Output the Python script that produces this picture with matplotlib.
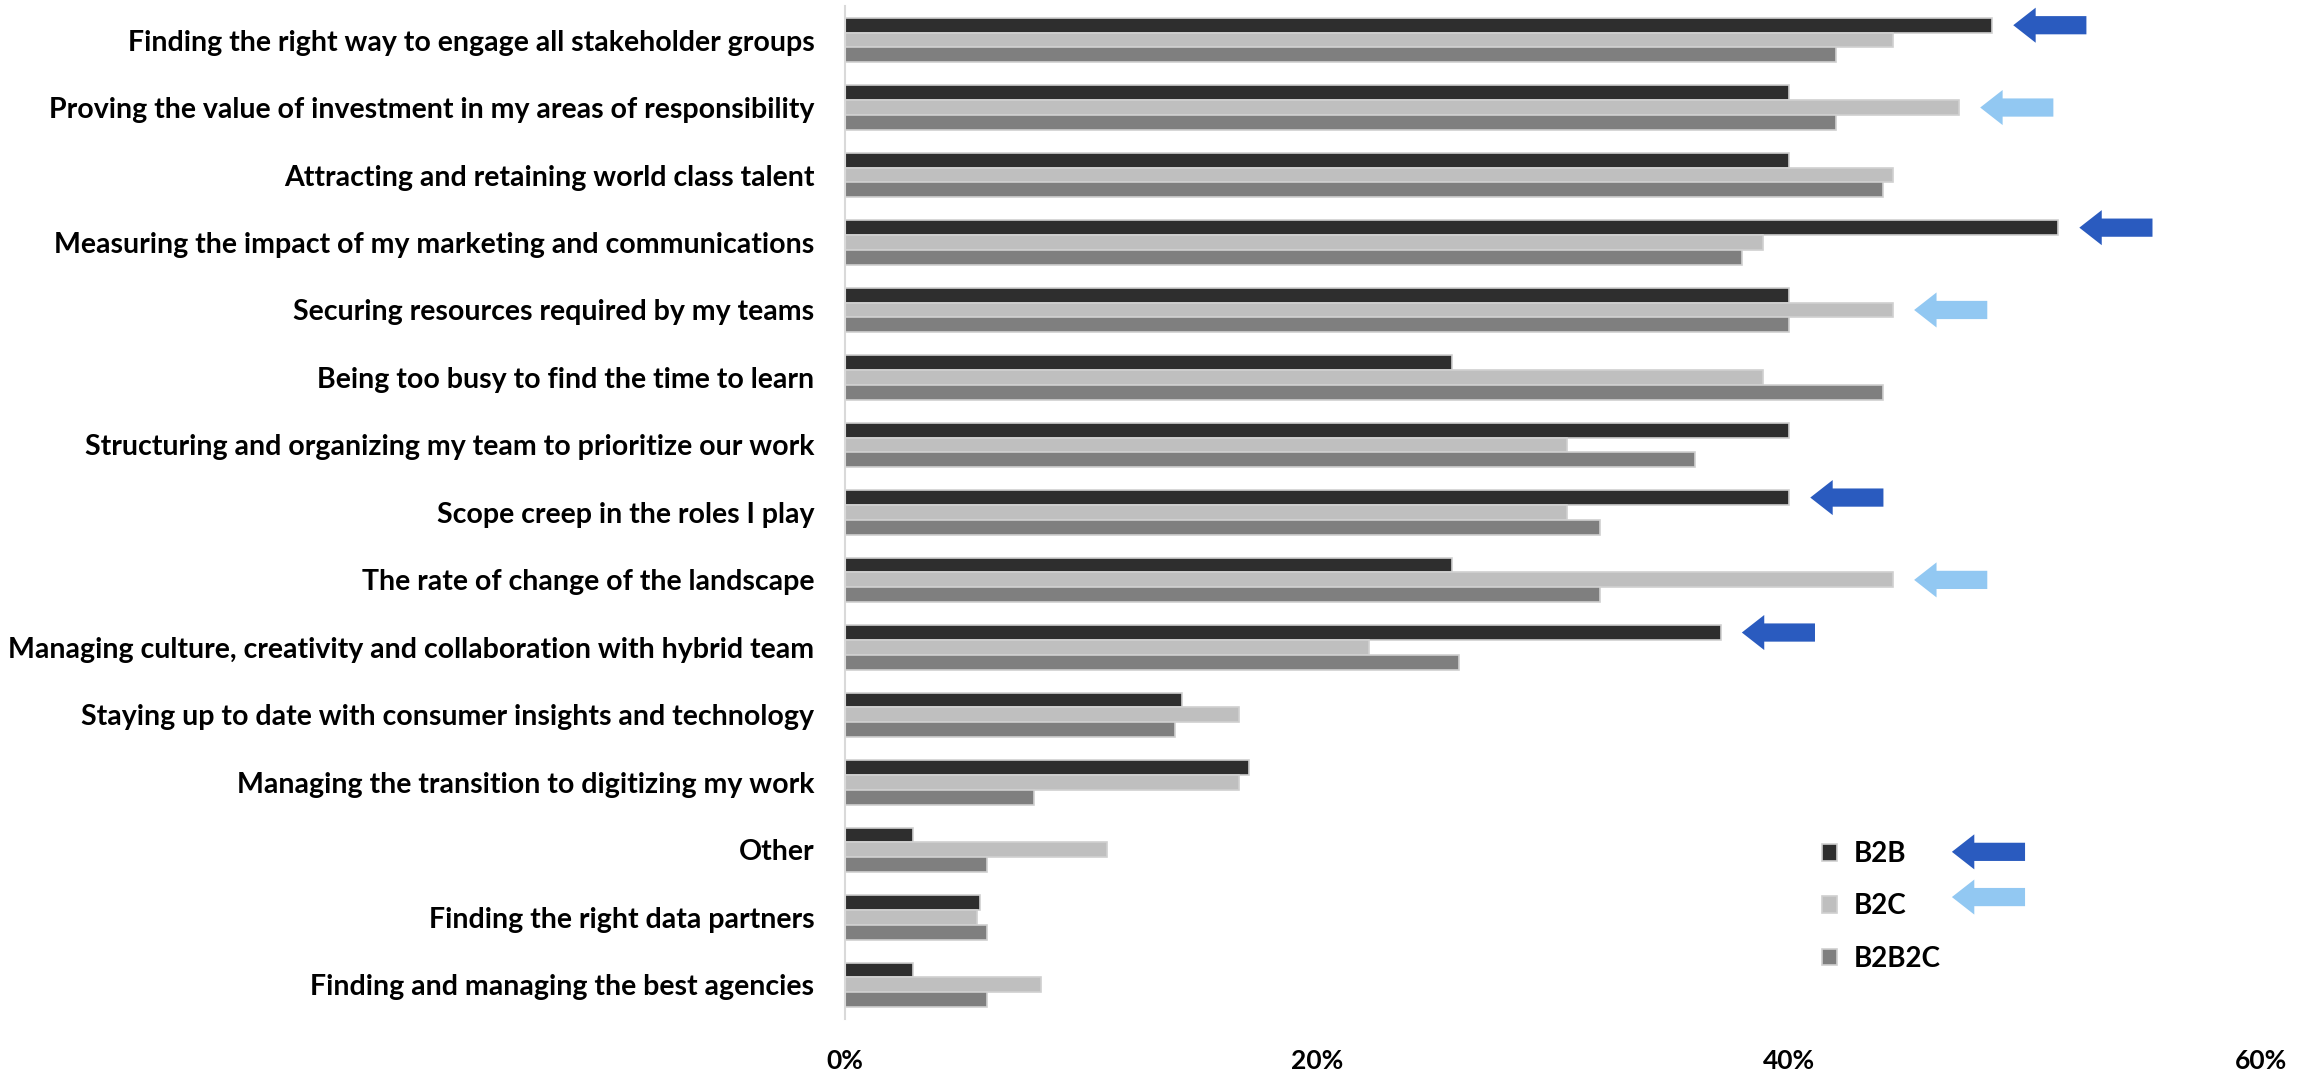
import numpy as np
import matplotlib.pyplot as plt
from matplotlib.patches import FancyArrow

categories = [
    "Finding the right way to engage all stakeholder groups",
    "Proving the value of investment in my areas of responsibility",
    "Attracting and retaining world class talent",
    "Measuring the impact of my marketing and communications",
    "Securing resources required by my teams",
    "Being too busy to find the time to learn",
    "Structuring and organizing my team to prioritize our work",
    "Scope creep in the roles I play",
    "The rate of change of the landscape",
    "Managing culture, creativity and collaboration with hybrid team",
    "Staying up to date with consumer insights and technology",
    "Managing the transition to digitizing my work",
    "Other",
    "Finding the right data partners",
    "Finding and managing the best agencies",
]

b2b = [48.6, 40.0, 40.0, 51.4, 40.0, 25.7, 40.0, 40.0, 25.7, 37.1, 14.3, 17.1, 2.9, 5.7, 2.9]
b2c = [44.4, 47.2, 44.4, 38.9, 44.4, 38.9, 30.6, 30.6, 44.4, 22.2, 16.7, 16.7, 11.1, 5.6, 8.3]
b2b2c = [42.0, 42.0, 44.0, 38.0, 40.0, 44.0, 36.0, 32.0, 32.0, 26.0, 14.0, 8.0, 6.0, 6.0, 6.0]

series_names = ["B2B", "B2C", "B2B2C"]
series_colors = ["#2e2e2e", "#bfbfbf", "#7f7f7f"]

# highlighted bars: (row, series index)
highlights = [(0, 0), (1, 1), (3, 0), (4, 1), (7, 0), (8, 1), (9, 0)]
arrow_colors = ["#2a5bbf", "#92c8f2"]

plt.rcParams['font.family'] = ['Lato', 'DejaVu Sans']

fig = plt.figure(figsize=(23.15, 10.71), dpi=100)
ax = fig.add_axes([0.365, 0.049, 0.6117, 0.9451])

y = np.arange(len(categories))
h = 0.22
data = [b2b, b2c, b2b2c]
for i, (vals, col, name) in enumerate(zip(data, series_colors, series_names)):
    ax.barh(y + (i - 1) * h, vals, height=h, color=col, edgecolor="#d0d0d0",
            linewidth=1.2, label=name)

# arrows pointing at the highlighted bars
alen = 3.1
def draw_arrow(xtip, yc, color):
    ax.add_patch(FancyArrow(xtip + alen, yc, -alen, 0, width=0.27,
                            head_width=0.52, head_length=0.95,
                            length_includes_head=True, color=color, lw=0))

for row, s in highlights:
    draw_arrow(data[s][row] + 0.9, row + (s - 1) * h, arrow_colors[s])

ax.set_xlim(0, 60)
ax.set_ylim(len(categories) - 0.5, -0.5)
ax.set_yticks(y)
ax.set_yticklabels(categories, fontsize=20.5, fontweight='bold')
ax.set_xticks([0, 20, 40, 60])
ax.set_xticklabels(["0%", "20%", "40%", "60%"], fontsize=19, fontweight='bold')
ax.tick_params(axis='y', length=0, pad=22)
ax.tick_params(axis='x', length=0, pad=22)
for side in ["top", "right", "bottom"]:
    ax.spines[side].set_visible(False)
ax.spines["left"].set_color("#d9d9d9")
ax.spines["left"].set_linewidth(1.5)

leg = ax.legend(loc="upper left", bbox_to_anchor=(0.672, 0.2), frameon=False,
                prop={'size': 20, 'weight': 'bold'}, handlelength=0.55,
                handleheight=0.55, labelspacing=0.95, handletextpad=0.6)

# legend arrows
draw_arrow(46.9, 12.03, arrow_colors[0])
draw_arrow(46.9, 12.7, arrow_colors[1])

fig.savefig("out.png", dpi=100)
